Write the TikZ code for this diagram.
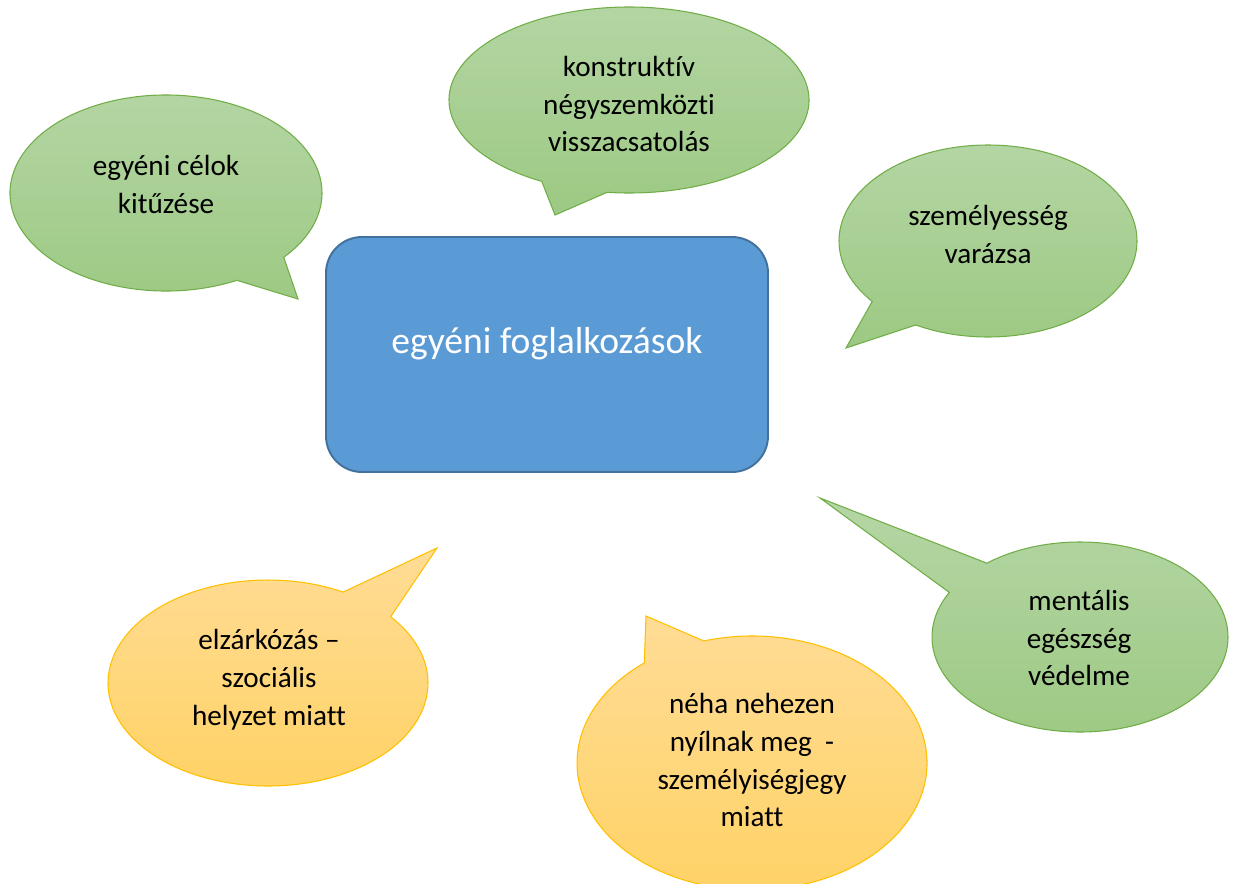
\documentclass[tikz,border=0pt]{standalone}
\usepackage{fontspec}
\setmainfont{Carlito}[Ligatures={TeX,NoCommon}]
\usepackage{tikz}
\usetikzlibrary{positioning}

\definecolor{boxblue}{HTML}{5B9BD5}
\definecolor{boxline}{HTML}{41719C}
\definecolor{greentop}{HTML}{B5D6A5}
\definecolor{greenbottom}{HTML}{9CC983}
\definecolor{greenline}{HTML}{70AD47}
\definecolor{orangetop}{HTML}{FFDC96}
\definecolor{orangebottom}{HTML}{FFD264}
\definecolor{orangeline}{HTML}{FFC000}

\tikzset{
  mainbox/.style={draw=boxline,fill=boxblue,line width=1.1pt,rounded corners=0.72cm},
  maintext/.style={text=white,font=\fontsize{21.4}{26}\selectfont},
  greenbubble/.style={draw=greenline,line width=0.6pt,top color=greentop,bottom color=greenbottom},
  orangebubble/.style={draw=orangeline,line width=0.6pt,top color=orangetop,bottom color=orangebottom},
  bubbletext/.style={align=center,font=\fontsize{16.6}{21.6}\selectfont}
}

\begin{document}
\begin{tikzpicture}[x=0.02cm,y=-0.02cm]
        \useasboundingbox (0,0) rectangle (1237,883);
        % tips of the bubbles
        \coordinate (goalstip) at (298,299);
        \coordinate (feedbacktip) at (555,215);
        \coordinate (personaltip) at (846,348);
        \coordinate (mentaltip) at (820,498);
        \coordinate (withdrawtip) at (437,548);
        \coordinate (shytip) at (646,616);
        % centre box
        \draw[mainbox] (326,237) rectangle (768,472);
        \node[maintext] (main) at (547,344) {egyéni foglalkozások};
        % green bubbles
        \draw[greenbubble] (166,193) ++(63:156 and 98)
          arc[start angle=63,end angle=401,x radius=156,y radius=98] -- (goalstip) -- cycle;
        \draw[greenbubble] (629,100) ++(119:180 and 93)
          arc[start angle=119,end angle=457,x radius=180,y radius=93] -- (feedbacktip) -- cycle;
        \draw[greenbubble] (988,241) ++(141:149 and 96)
          arc[start angle=141,end angle=479,x radius=149,y radius=96] -- (personaltip) -- cycle;
        \draw[greenbubble] (1080,637) ++(231:148 and 95)
          arc[start angle=231,end angle=568,x radius=148,y radius=95] -- (mentaltip) -- cycle;
        % orange bubbles
        \draw[orangebubble] (268,683) ++(320:160 and 103)
          arc[start angle=320,end angle=658,x radius=160,y radius=103] -- (withdrawtip) -- cycle;
        \draw[orangebubble] (752,763) ++(254:175 and 127)
          arc[start angle=254,end angle=592,x radius=175,y radius=127] -- (shytip) -- cycle;
        % texts
        \node[bubbletext] (goals) at (166,184) {egyéni célok\\kitűzése};
        \node[bubbletext] (feedback) at (629,104) {konstruktív\\négyszemközti\\visszacsatolás};
        \node[bubbletext] (personal) at (988,234) {személyesség\\varázsa};
        \node[bubbletext] (mental) at (1079,638) {mentális\\egészség\\védelme};
        \node[bubbletext] (withdraw) at (269,680) {elzárkózás –\\szociális\\helyzet miatt};
        \node[bubbletext] (shy) at (752,760) {néha nehezen\\nyílnak meg\ \ -\\személyiségjegy\\miatt};
      \end{tikzpicture}
\end{document}
